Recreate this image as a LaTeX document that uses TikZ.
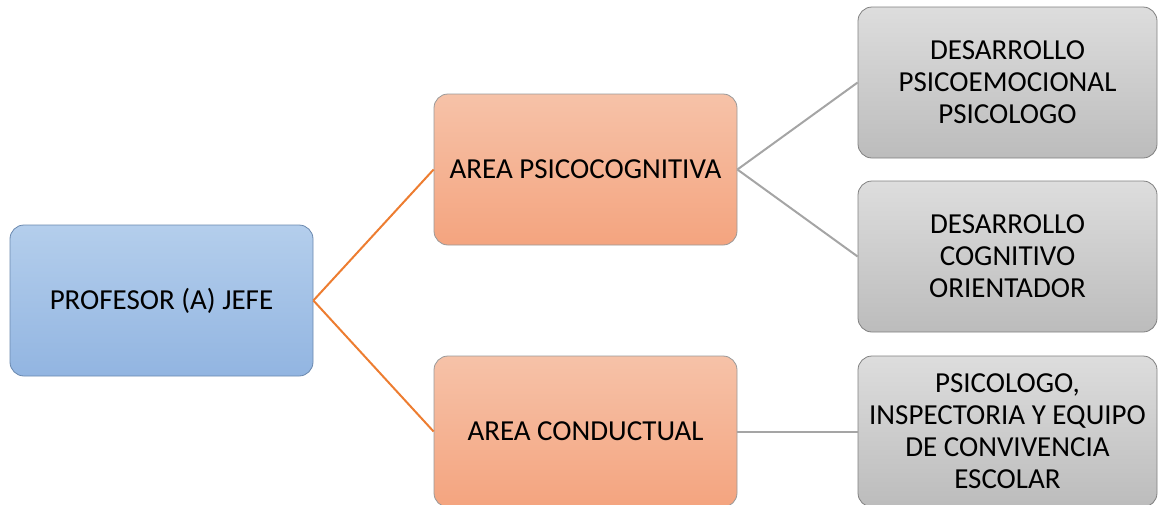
\documentclass[tikz,border=0pt]{standalone}
\usepackage{fontspec}
\setmainfont{Carlito}
\begin{document}
\begin{tikzpicture}[x=1pt,y=-1pt,
  box/.style={rounded corners=14pt, minimum width=303pt, minimum height=151pt, align=center,
    font=\fontsize{29}{32}\selectfont, text=black, line width=0.8pt, inner sep=2pt},
  bluebox/.style={box},
  orbox/.style={box},
  grbox/.style={box, minimum width=299pt},
  orline/.style={line width=2pt},
  grline/.style={line width=2pt}]
\useasboundingbox (0,0) rectangle (1159,504);
\definecolor{bTop}{HTML}{B4CEEC}\definecolor{bBot}{HTML}{92B5E1}\definecolor{bBrd}{HTML}{6A88AE}
\definecolor{oTop}{HTML}{F6C2A8}\definecolor{oBot}{HTML}{F4A47F}
\definecolor{gTop}{HTML}{DDDDDD}\definecolor{gBot}{HTML}{BCBCBC}
\definecolor{eOr}{HTML}{ED7D31}\definecolor{eGr}{HTML}{A5A5A5}
\node[bluebox, top color=bTop, bottom color=bBot, draw=bBrd] (jefe) at (161.5,300.5) {PROFESOR (A) JEFE};
\node[orbox, top color=oTop, bottom color=oBot, draw=gray!80] (psico) at (585.5,169.5) {AREA PSICOCOGNITIVA};
\node[orbox, top color=oTop, bottom color=oBot, draw=gray!80] (cond) at (585.5,431.5) {AREA CONDUCTUAL};
\node[grbox, top color=gTop, bottom color=gBot, draw=gray] (g1) at (1007.5,82.5) {DESARROLLO\\PSICOEMOCIONAL\\PSICOLOGO};
\node[grbox, top color=gTop, bottom color=gBot, draw=gray] (g2) at (1007.5,256.5) {DESARROLLO\\COGNITIVO\\ORIENTADOR};
\node[grbox, top color=gTop, bottom color=gBot, draw=gray] (g3) at (1007.5,431.5) {PSICOLOGO,\\INSPECTORIA Y EQUIPO\\DE CONVIVENCIA\\ESCOLAR};
\draw[orline, draw=eOr] (jefe.east) -- (psico.west);
\draw[orline, draw=eOr] (jefe.east) -- (cond.west);
\draw[grline, draw=eGr] (psico.east) -- (g1.west);
\draw[grline, draw=eGr] (psico.east) -- (g2.west);
\draw[grline, draw=eGr] (cond.east) -- (g3.west);
\end{tikzpicture}
\end{document}
